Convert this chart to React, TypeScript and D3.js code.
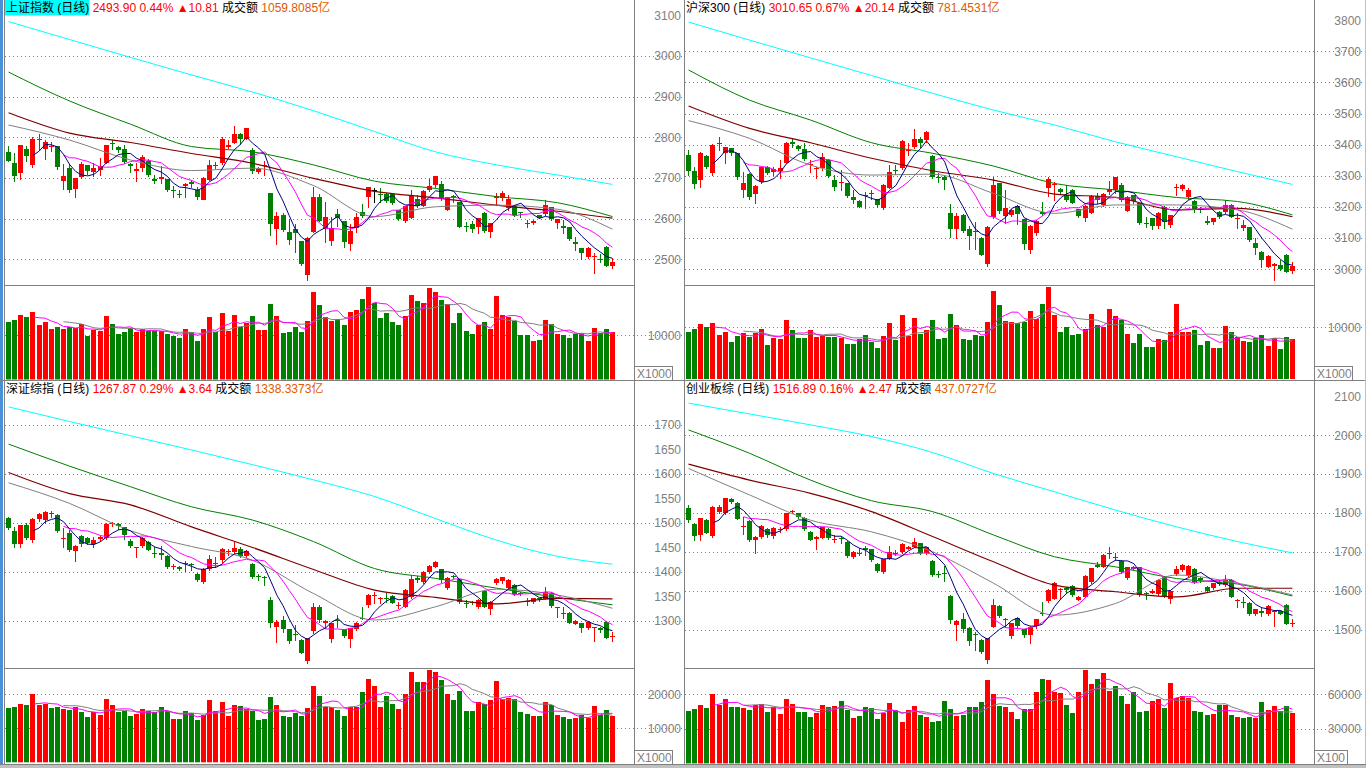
import React from 'react';
import * as d3 from 'd3';

// ---------- shared ----------
const IDX = d3.range(100);
const maSampleIdx = [0, 10, 20, 30, 40, 50, 60, 70, 80, 90, 99];

// ---------- 上证指数 ----------
const shOpen = [2764,2737,2713,2770,2730,2792,2770,2777,2778,2693,2724,2674,2701,2731,2715,2718,2737,2785,2777,2770,2734,2717,2723,2741,2698,2697,2698,2670,2660,2680,2690,2670,2647,2695,2731,2736,2777,2787,2807,2796,2769,2715,2728,2662,2575,2608,2567,2574,2544,2462,2568,2654,2574,2544,2611,2595,2539,2576,2617,2652,2670,2660,2660,2660,2621,2595,2603,2647,2633,2670,2682,2685,2621,2655,2642,2582,2587,2579,2613,2565,2651,2652,2628,2631,2615,2588,2587,2608,2610,2628,2587,2583,2580,2543,2528,2506,2506,2500,2529,2485];
const shClose = [2742,2705,2781,2752,2795,2795,2787,2778,2726,2705,2670,2700,2734,2716,2724,2729,2781,2782,2769,2739,2729,2722,2751,2706,2693,2701,2670,2667,2657,2686,2685,2654,2700,2731,2729,2796,2782,2808,2795,2823,2718,2723,2731,2585,2606,2570,2547,2564,2487,2552,2654,2595,2603,2576,2600,2543,2570,2603,2606,2677,2670,2658,2642,2638,2599,2631,2656,2631,2669,2680,2705,2647,2654,2649,2580,2579,2575,2601,2568,2588,2655,2664,2649,2608,2613,2587,2593,2601,2633,2598,2598,2579,2551,2539,2516,2528,2509,2498,2483.1,2493.9];
const shHigh = [2778,2760,2781,2778,2800,2808,2792,2787,2778,2734,2734,2700,2740,2731,2736,2748,2781,2793,2778,2781,2737,2736,2756,2746,2708,2729,2698,2680,2670,2688,2695,2677,2703,2744,2739,2800,2792,2828,2811,2823,2773,2728,2742,2662,2615,2613,2598,2587,2544,2556,2677,2660,2642,2605,2624,2595,2587,2613,2637,2677,2674,2674,2664,2662,2621,2631,2670,2657,2670,2698,2705,2692,2654,2658,2642,2592,2595,2601,2615,2590,2664,2669,2659,2634,2615,2597,2597,2610,2646,2629,2598,2597,2580,2556,2528,2531,2515,2513,2533,2502];
const shLow = [2742,2693,2698,2741,2728,2769,2746,2765,2722,2672,2665,2654,2699,2710,2705,2706,2736,2772,2763,2736,2714,2693,2718,2705,2687,2687,2669,2654,2652,2654,2677,2647,2647,2695,2724,2734,2773,2785,2783,2795,2711,2711,2706,2560,2538,2569,2538,2519,2487,2449,2568,2593,2543,2534,2583,2531,2523,2568,2605,2629,2642,2642,2641,2636,2597,2592,2601,2629,2632,2669,2677,2646,2620,2642,2579,2570,2568,2564,2568,2556,2633,2646,2621,2606,2603,2579,2587,2601,2609,2597,2576,2564,2547,2523,2500,2502,2466,2494,2483,2479];
const shVol = [12995,13370,14490,14120,15170,12250,12850,11350,11800,11350,11800,11500,12400,9780,11120,10970,14270,12470,10220,10600,11650,10600,11350,10820,10820,10820,10220,9780,9330,11350,10600,8650,11350,14040,10600,15020,10900,14490,11870,12620,14270,11120,11120,17040,14270,10520,10750,11800,10750,13150,19660,16820,14120,13150,13520,12250,15170,15620,18090,20780,17110,13820,15020,12920,12250,14270,19060,17640,17270,20560,19660,17860,16890,12770,15020,10900,10220,12170,12920,11420,18760,14570,14040,13070,9920,9920,8650,8880,13370,12550,10300,9920,9400,10300,10520,8650,11570,10450,11350,10670];
const shMA20 = [2830,2793,2744,2718,2724,2681,2605,2629,2633,2623,2574];
const shMA30 = [2860,2810,2787,2760,2736,2699,2667,2651,2633,2618,2601];
const shMA60 = [2960,2889,2832,2777,2764,2732,2692,2674,2654,2639,2605];
const shMA120 = [3084,3040,2996,2953,2911,2865,2814,2764,2732,2707,2684];
const shPriceTicks = [2500,2600,2700,2800,2900,3000,3100];
const shGridTicks = [2500,2600,2700,2800,2900,3000];
const shVolTicks = [10000];

// ---------- 沪深300 ----------
const hsOpen = [3366.6,3316,3286.2,3363.3,3307.6,3402,3371.9,3388,3371.9,3254,3305.5,3240.1,3277.6,3329,3309.7,3313,3341.9,3409.4,3396.6,3384.8,3334.4,3320.5,3326.9,3350.5,3286.2,3277.6,3275.5,3232.6,3219.7,3239,3243.3,3224,3195.1,3262.6,3318.3,3323.7,3380.5,3391.2,3418,3414.8,3363.3,3296.9,3296.9,3179,3127.5,3173.6,3127.5,3123.3,3100.8,3018.2,3166.1,3275.5,3168.3,3173.6,3202.6,3159.7,3061.1,3116.8,3184.4,3262.6,3269,3256.2,3238,3254,3191.9,3162.9,3181.1,3234.7,3205.8,3245.4,3251.9,3270.1,3187.6,3236.9,3211.1,3149,3162.9,3138.3,3198.3,3141.5,3260.4,3256.2,3230.4,3219.7,3194,3155.4,3149,3183.3,3184.4,3205.8,3160.8,3131.8,3134,3084.7,3055.7,3007.5,3009.6,3013.9,3044,2994.6];
const hsClose = [3316.2,3275.5,3371.9,3329,3398.7,3406.2,3391.2,3371.9,3293.7,3277.6,3230.4,3266.9,3326.9,3309.7,3320.5,3323.7,3406.2,3404.1,3388,3353.7,3336.5,3323.7,3361.2,3299,3264.7,3279.7,3232.6,3224,3200.4,3236.9,3241.2,3205.8,3270.1,3313,3314,3411.6,3382.6,3416.9,3406.2,3441.6,3294.7,3294.7,3286.2,3127.5,3170.4,3123.3,3104,3120,3047.2,3136.1,3270.1,3184.4,3195.1,3189.7,3175.8,3080.4,3138.3,3155.4,3179,3290.5,3273.3,3245.4,3221.9,3213.3,3168.3,3202.6,3234.7,3221.9,3241.2,3256.2,3294.7,3221.9,3232.6,3216.5,3146.8,3146.8,3136.1,3181.1,3149,3172.6,3262.6,3270.1,3254,3189.7,3189.7,3149,3162.9,3168.3,3205.8,3168.3,3162.9,3140.4,3093.2,3069.7,3029,3042.9,3016.1,3002.1,2990.51,3010.65];
const hsHigh = [3382.6,3329,3377.3,3366.6,3400.9,3423.4,3393.3,3390.1,3374,3313,3307.6,3270.1,3329,3331.2,3329,3350.5,3408.4,3416.9,3398.7,3404.1,3350.5,3329,3371.9,3352.6,3302.3,3318.3,3277.6,3254,3221.9,3248.7,3254,3226.1,3272.2,3334.4,3334.4,3413.7,3404.1,3450.2,3423.4,3444.8,3365.5,3309.7,3299,3208,3181.1,3175.8,3138.3,3152.2,3102.9,3138.3,3296.9,3277.6,3254,3191.9,3205.8,3161.8,3140.4,3157.6,3216.5,3294.7,3280.8,3259.4,3269,3256.2,3194,3204.7,3236.9,3243.3,3243.3,3281.9,3294.7,3275.5,3234.7,3239,3213.3,3166.1,3165,3183.3,3202.6,3174.7,3273.3,3272.2,3259.4,3221.9,3200.4,3170.4,3165,3185.4,3221.9,3208,3179,3157.6,3136.1,3098.6,3057.9,3045,3020.4,3029,3048.2,3023.6];
const hsLow = [3302.3,3259.4,3264.7,3323.7,3302.3,3382.6,3339.8,3366.6,3290.5,3232.6,3224,3211.1,3275.5,3305.5,3302.3,3291.5,3339.8,3393.3,3382.6,3350.5,3313,3293.7,3318.3,3296.9,3254,3254,3230.4,3211.1,3198.3,3195.1,3224,3198.3,3194,3260.4,3305.5,3320.5,3366.6,3388,3391.2,3409.4,3292.6,3280.8,3256.2,3101.8,3098.6,3120,3063.2,3063.2,3045,3010.7,3162.9,3181.1,3146.8,3170.4,3144.7,3064.3,3052.5,3109.3,3173.6,3234.7,3221.9,3241.2,3219.7,3211.1,3166.1,3155.4,3179,3211.1,3202.6,3241.2,3245.4,3219.7,3185.4,3213.3,3144.7,3136.1,3127.5,3130.8,3130.8,3134,3238,3254,3224,3184.4,3184.4,3144.7,3144.7,3162.9,3179,3166.1,3130.8,3125.4,3091.1,3048.2,3007.5,3005.4,2964.6,2996.8,2990.4,2986.1];
const hsVol = [9159,9740,10643,9998,10900,8514,9159,7224,8385,8966,8192,8837,9675,6579,7934,7740,11417,9482,7934,7934,9482,8192,8385,8063,8063,7998,6773,6773,7740,8514,7224,5999,8321,10772,7547,12384,8321,11804,8708,9482,11417,7805,7934,12578,10449,7740,7547,8514,8321,11030,17028,14384,11159,11094,10900,10965,13158,11546,14513,17738,12384,9095,9998,8579,8772,9611,12642,10449,10062,13545,12191,11417,8708,6966,8708,6192,6192,7740,7547,9095,14513,9095,9095,9482,6579,7418,5999,5999,10256,9095,8192,7418,7160,7934,8514,6386,7934,5805,8127,7740];
const hsMA20 = [3477,3420,3334,3302,3305,3243,3179,3206,3206,3190,3128];
const hsMA30 = [3524,3452,3406,3356,3316,3286,3241,3230,3190,3195,3168];
const hsMA60 = [3640,3543,3479,3406,3372,3331,3275,3254,3230,3217,3174];
const hsMA120 = [3794,3736,3679,3622,3565,3511,3463,3409,3361,3313,3272];
const hsPriceTicks = [3000,3100,3200,3300,3400,3500,3600,3700,3800];
const hsGridTicks = [3000,3100,3200,3300,3400,3500,3600,3700];
const hsVolTicks = [10000];

// ---------- 深证综指 ----------
const szOpen = [1508.5,1483.3,1456.1,1494.8,1462.9,1506.4,1506.4,1520,1515.3,1465.6,1477.8,1442.5,1472.4,1468.3,1456.1,1467.6,1467.6,1496.9,1496.9,1490.1,1462.9,1447.9,1450.6,1460.8,1438.4,1437,1431.6,1408.5,1409.8,1418,1415.3,1394.8,1377.2,1404.4,1415.3,1422.1,1439.7,1439.7,1446.5,1431.6,1415.3,1390.8,1389.4,1341.8,1287.4,1301,1281.9,1272.4,1260.1,1215.9,1277.2,1328.2,1295.5,1261.5,1301,1281.9,1261.5,1284,1305.7,1331.6,1349.9,1345.2,1346.5,1349.9,1329.5,1328.2,1347.2,1386,1379.2,1399.6,1409.8,1404.4,1365.6,1390.8,1384,1336.3,1338.4,1326.8,1360.8,1324.8,1375.8,1379.2,1365.6,1372.4,1356.8,1340.4,1337.7,1345.2,1345.2,1356.8,1325.5,1315.9,1315.9,1294.2,1294.2,1286,1284,1284,1297.6,1265];
const szClose = [1488,1457.4,1494.8,1467.6,1506.4,1517.3,1522.1,1517.3,1483.3,1468.3,1443.8,1452,1456.1,1458.8,1464.2,1471,1496.9,1499.6,1492.8,1473.8,1452,1449.3,1467.6,1445.2,1435.7,1433.6,1408.5,1411.2,1405.7,1415.3,1412.5,1382.6,1404.4,1424.8,1418,1445.2,1442.5,1447.9,1431.6,1441.1,1388,1389.4,1386.7,1295.5,1297.6,1281.9,1256.8,1270.3,1234.3,1263.5,1326.8,1301,1299.6,1294.2,1298.2,1266.9,1284,1295.5,1304.4,1352,1352,1346.5,1344.5,1336.3,1331.6,1362.2,1384,1382.6,1399.6,1411.2,1419.3,1381.2,1386,1388,1336.3,1333.6,1336.3,1341.8,1328.2,1338.4,1384,1388,1382.6,1354,1354,1337.7,1345.2,1343.1,1358.8,1329.5,1326.8,1313.2,1295.5,1299.6,1284,1297.6,1286,1280.6,1264.23,1267.87];
const szHigh = [1511.9,1491.4,1494.8,1498.3,1508.5,1518.7,1524.1,1524.1,1516.6,1488,1484.6,1454,1473.8,1471,1471,1472.4,1498.3,1501.6,1498.3,1491.4,1465.6,1450.6,1471,1462.9,1450.6,1452,1433.6,1415.3,1411.2,1422.1,1418,1396.2,1406.4,1433.6,1428.9,1447.2,1445.2,1460.8,1449.3,1443.8,1416.6,1394.8,1390.8,1347.2,1301,1309.1,1283.3,1290.8,1261.5,1264.9,1336.3,1331.6,1301,1295.5,1311.2,1283.3,1285.3,1297.6,1328.2,1353.4,1358.8,1348.6,1356.8,1351.3,1338.4,1363.6,1392.8,1390.8,1401,1413.2,1420.7,1405.7,1388,1392.1,1385.3,1341.8,1339.8,1343.1,1362.2,1339.8,1386,1389.4,1384,1373.8,1358.1,1345.2,1346.5,1346.5,1367.6,1358.1,1328.2,1326.8,1317.3,1301,1295.5,1298.9,1287.4,1287.4,1299.6,1277.2];
const szLow = [1486,1449.3,1449.3,1465.6,1460.8,1503.7,1498.3,1511.9,1481.2,1450.6,1442.5,1422.1,1452,1456.1,1450.6,1464.2,1465.6,1492.8,1486,1467,1449.3,1428.9,1449.3,1443.8,1428.9,1424.8,1406.4,1404.4,1403,1401.6,1403,1381.2,1375.8,1403,1408.5,1420,1433.6,1438.4,1428.9,1428.9,1386,1382.6,1372.4,1287.4,1256.8,1277.2,1254.7,1260.1,1232.9,1213.9,1275.1,1297.6,1284,1256.8,1287.4,1265.6,1246.5,1280.6,1302.3,1328.2,1335,1335,1338.4,1335,1324.8,1326.8,1345.2,1379.2,1377.2,1397.6,1408.5,1379.2,1363.6,1386,1335,1328.2,1333.6,1324.8,1326.8,1313.2,1374.4,1377.2,1364.2,1352,1351.3,1331.6,1336.3,1340.4,1343.1,1328.2,1307.8,1304.4,1294.2,1292.8,1277.2,1281.9,1258.8,1277.2,1263.5,1258.8];
const szVol = [15780,16070,16940,16650,19860,16650,16940,15780,16070,15490,15200,16070,14610,13160,14610,13740,18400,16650,14610,14900,13450,14030,15490,14900,14610,16070,14900,12570,12570,14900,14320,12280,13740,18110,14900,17530,13450,16650,16360,15490,14900,12280,12570,18980,16650,13450,13160,14320,13450,15780,22480,19270,16070,16070,15200,13450,16070,16070,20440,24520,22480,16070,19270,16940,15490,19860,26560,23450,23450,27140,26560,24230,19860,18110,21020,14900,14900,17530,16940,18110,23930,18400,18690,18400,14610,14030,13450,13450,17530,16650,13740,13160,12570,12870,13740,12870,16360,13740,15200,13450];
const szMA20 = [1581,1539,1483,1451,1423,1355,1301,1328,1364,1352,1325];
const szMA30 = [1602,1559,1536,1491,1449,1404,1362,1347,1334,1345,1344];
const szMA60 = [1660,1615,1573,1532,1505,1461,1406,1386,1366,1347,1332];
const szMA120 = [1736,1706,1677,1648,1618,1587,1553,1508,1464,1431,1415];
const szPriceTicks = [1300,1350,1400,1450,1500,1550,1600,1650,1700];
const szGridTicks = [1300,1400,1500,1600,1700];
const szVolTicks = [10000, 20000];

// ---------- 创业板综 ----------
const cyOpen = [1811.4,1771.2,1742.9,1781.4,1740.3,1802.9,1798.6,1834.6,1826,1762.6,1779.7,1730,1738.6,1757.4,1738.6,1754,1757.4,1802,1798.6,1785.7,1751.5,1733.4,1734.9,1757.4,1730,1734.3,1725.7,1687.2,1697.5,1708.6,1706,1668.3,1646,1682.9,1697.5,1700,1708.6,1712.9,1721.5,1695.7,1676.9,1642.6,1644.3,1586.1,1511.5,1526.1,1503,1487.5,1473,1419.8,1507.2,1560.4,1524.4,1483.2,1528.7,1500.4,1487.5,1507.2,1543.2,1574.1,1580.1,1599.8,1605.8,1611.8,1577.5,1584.4,1620.3,1665.7,1661.5,1694,1687.2,1676.9,1631.5,1661.5,1659.8,1594.6,1594.6,1591.2,1634.1,1580.1,1642.6,1652.9,1640.1,1656.3,1631.5,1610.1,1605.8,1622.9,1614.4,1627.2,1574.1,1571.5,1568.9,1539.8,1548.4,1539.8,1545.8,1548.4,1562.9,1513.5];
const cyClose = [1779.7,1740.3,1785.7,1748.9,1815.7,1815.7,1837.1,1826,1785.7,1766,1730,1738.6,1766,1742.9,1760,1757.4,1798.6,1804.6,1788.3,1757.4,1731.7,1738.6,1762.6,1734.3,1731.7,1731.7,1688.9,1700,1694,1704.3,1676.9,1651.2,1680.3,1700,1694,1719.8,1712.9,1725.7,1695.7,1711.2,1640.1,1640.1,1642.6,1524.4,1522.7,1500.4,1468.7,1485.8,1443,1477.2,1562.9,1534.7,1526.1,1515.8,1508.9,1485.8,1507.2,1526.1,1539.8,1601.5,1620.3,1603.2,1601.5,1588.7,1584.4,1637.5,1657.2,1661.5,1691.5,1695.7,1685.5,1648.6,1659.8,1657.2,1588.7,1591.2,1599.8,1627.2,1584.4,1599.8,1654.6,1665.7,1663.2,1622.9,1627.2,1599.8,1618.6,1616.9,1627.2,1584.4,1575.8,1568.9,1539.8,1551.8,1543.2,1560.4,1548.4,1541.5,1514.42,1516.89];
const cyHigh = [1820,1772.9,1787.4,1783.2,1817.4,1820,1838.9,1837.1,1827.7,1790,1781.4,1740.3,1767.7,1760,1762.6,1764.3,1800.3,1807.2,1800.3,1788.3,1754,1740.3,1764.3,1760,1742.9,1738.6,1728.3,1702.6,1708.6,1714.6,1707.8,1670,1682,1714.6,1704.3,1721.5,1714.6,1734.3,1723.2,1712.9,1678.6,1651.2,1663.2,1587.8,1524.4,1541.5,1505.5,1494.4,1474.7,1479,1577.5,1562.1,1528.7,1517.5,1533,1502.1,1508.9,1527.8,1571.5,1603.2,1622.9,1605.8,1610.1,1613.5,1586.1,1639.2,1658.9,1674.3,1693.2,1711.2,1695.7,1678.6,1661.5,1663.2,1661.5,1597.2,1603.2,1628.9,1635.8,1601.5,1663.2,1667.5,1664.9,1658,1634.1,1611.8,1620.3,1627.2,1640.1,1628.9,1577.5,1584.4,1570.6,1553.5,1554.4,1562.1,1550.1,1550.1,1564.7,1526.1];
const cyLow = [1777.2,1730,1730,1747.2,1738.6,1798.6,1796.9,1824.3,1783.2,1745.5,1728.3,1697.5,1734.9,1738.6,1734.9,1751.5,1755.7,1798.6,1785.7,1755.7,1730,1707.8,1734.3,1731.7,1725.7,1721.5,1687.2,1682.9,1691.5,1691.5,1675.2,1648.6,1644.3,1680.3,1691.5,1697.5,1706,1711.2,1694,1694,1637.5,1635.8,1625.5,1517.5,1473,1494.4,1460.1,1447.3,1440.4,1414.7,1505.5,1532.9,1507.2,1477.2,1507.2,1481.5,1464.4,1503,1537.2,1571.5,1577.5,1577.5,1594.6,1586.1,1575.8,1582.6,1618.6,1659.8,1659.8,1682.9,1678.6,1646,1628.9,1654.6,1586.9,1577.5,1592.9,1588.7,1582.6,1567.2,1640.1,1651.2,1637.5,1620.3,1622.9,1597.2,1603.2,1614.4,1611.8,1582.6,1558.7,1556.9,1537.2,1537.2,1534.7,1537.2,1508.9,1539.8,1513,1508.9];
const cyVol = [45290,47030,50490,47890,60010,50490,55680,48760,48760,47890,46160,50490,51350,44430,48760,42700,55680,51350,44430,44430,40100,43560,50490,48760,49620,53950,46160,39240,40970,48760,47890,38370,43560,52220,46160,35770,46160,49620,41830,40100,35770,36640,53950,47030,40970,41830,48760,48760,53080,72130,60010,49620,48760,44430,38370,47030,47030,61740,72990,72130,61740,60870,50490,43560,61740,80780,68660,72990,78180,62600,66930,58280,51350,61740,44430,45290,53950,55680,47890,69530,56550,58280,56550,45290,44430,41830,42700,50490,50490,41830,40100,39240,40100,39240,53080,46160,49620,45290,49620,43560];
const cyMA20 = [1914,1846,1781,1751,1700,1619,1537,1567,1640,1619,1589];
const cyMA30 = [1925,1884,1850,1803,1739,1674,1614,1597,1584,1606,1606];
const cyMA60 = [2013,1953,1884,1831,1803,1743,1687,1661,1631,1617,1586];
const cyMA120 = [2082,2054,2026,1996,1955,1901,1854,1807,1764,1726,1697];
const cyPriceTicks = [1500,1600,1700,1800,1900,2000,2100];
const cyGridTicks = [1500,1600,1700,1800,1900,2000];
const cyVolTicks = [30000, 60000];

// ---------- styles ----------
const RED = '#ff0000';
const GREEN = '#008000';
const GRAYLINE = '#808080';
const AXISTXT = '#808080';
const FONT = "'Liberation Sans', Arial, 'Noto Sans CJK SC', sans-serif";

function movingAvg(arr: number[], n: number): (number | null)[] {
  return arr.map((_, i) => (i < n - 1 ? null : (d3.mean(arr.slice(i - n + 1, i + 1)) as number)));
}

type Cfg = {
  x0: number; x1: number; top: number; priceBottom: number; volBottom: number;
  priceDomain: [number, number]; priceRange: [number, number];
  priceTicks: number[]; gridTicks: number[];
  volDomain: [number, number]; volRange: [number, number]; volTicks: number[]; volUnit: string;
  open: number[]; high: number[]; low: number[]; close: number[]; vol: number[];
  ma20: number[]; ma30: number[]; ma60: number[]; ma120: number[];
  name: string; price: string; pct: string; chg: string; amount: string; highlight: boolean;
};

function Panel({ c }: { c: Cfg }) {
  const x = d3.scaleBand<number>().domain(IDX).range([c.x0 + 0.5, c.x0 + 610.5]);
  const cx = (i: number) => (x(i) as number) + x.bandwidth() / 2;
  const yP = d3.scaleLinear().domain(c.priceDomain).range(c.priceRange);
  const yV = d3.scaleLinear().domain(c.volDomain).range(c.volRange);

  const ma5 = movingAvg(c.close, 5);
  const ma10 = movingAvg(c.close, 10);
  const vma5 = movingAvg(c.vol, 5);
  const vma10 = movingAvg(c.vol, 10);

  const lineP = d3.line<number | null>().defined((d) => d != null).x((_, i) => cx(i)).y((d) => yP(d as number));
  const lineV = d3.line<number | null>().defined((d) => d != null).x((_, i) => cx(i)).y((d) => yV(d as number));
  const lineS = d3.line<number>().x((_, k) => cx(maSampleIdx[k])).y((d) => yP(d)).curve(d3.curveMonotoneX);

  const colorOf = (i: number) => {
    if (c.close[i] > c.open[i]) return RED;
    if (c.close[i] < c.open[i]) return GREEN;
    return i > 0 && c.close[i] >= c.close[i - 1] ? RED : GREEN;
  };

  const labelX = c.x1 + 47;
  const volBase = yV(0);

  return (
    <g>
      {c.gridTicks.map((t) => (
        <line key={'g' + t} x1={c.x0} x2={c.x1 + 48} y1={Math.round(yP(t)) + 0.5} y2={Math.round(yP(t)) + 0.5}
          stroke={GRAYLINE} strokeDasharray="1 3" />
      ))}
      {c.volTicks.map((t) => (
        <line key={'vg' + t} x1={c.x0} x2={c.x1 + 48} y1={Math.round(yV(t)) + 0.5} y2={Math.round(yV(t)) + 0.5}
          stroke={GRAYLINE} strokeDasharray="1 3" />
      ))}
      {c.highlight && <rect x={c.x0} y={c.top} width={84.5} height={15.5} fill="#00ffff" />}
      <text x={c.x0 + 1} y={c.top + 12} fontSize={12} fontFamily={FONT} xmlSpace="preserve">
        <tspan fill="#000">{c.name + ' '}</tspan>
        <tspan fill={RED}>{c.price + ' ' + c.pct + ' ▲' + c.chg + ' '}</tspan>
        <tspan fill="#000">{'成交额 '}</tspan>
        <tspan fill="#e05a00">{c.amount}</tspan>
      </text>
      {c.priceTicks.map((t) => (
        <text key={'t' + t} x={labelX} y={yP(t) + 4.5} textAnchor="end" fontSize={12} fontFamily={FONT} fill={AXISTXT}>
          {t}
        </text>
      ))}
      {c.volTicks.map((t) => (
        <text key={'vt' + t} x={labelX} y={yV(t) + 4.5} textAnchor="end" fontSize={12} fontFamily={FONT} fill={AXISTXT}>
          {t}
        </text>
      ))}
      <rect x={c.x1 + 0.5} y={c.volBottom - 14} width={c.volUnit === 'X100' ? 33 : 38} height={14} fill="#fff" stroke={GRAYLINE} />
      <text x={c.x1 + 3} y={c.volBottom - 2.5} fontSize={12} fontFamily={FONT} fill={AXISTXT}>{c.volUnit}</text>
      {IDX.map((i) => {
        const col = c.close[i] === c.open[i] ? '#000' : colorOf(i);
        const xc = Math.floor(cx(i));
        const yo = yP(c.open[i]);
        const yc = yP(c.close[i]);
        const top = Math.round(Math.min(yo, yc));
        const h = Math.max(1, Math.round(Math.abs(yo - yc)));
        return (
          <g key={'c' + i}>
            <line x1={xc + 0.5} x2={xc + 0.5} y1={Math.round(yP(c.high[i]))} y2={Math.round(yP(c.low[i])) + 1} stroke={col} />
            <rect x={xc - 2} y={top} width={5} height={h} fill={col} />
          </g>
        );
      })}
      <path d={lineS(c.ma120) || ''} fill="none" stroke="#00ffff" strokeWidth={1} />
      <path d={lineS(c.ma60) || ''} fill="none" stroke="#008000" strokeWidth={1} />
      <path d={lineS(c.ma30) || ''} fill="none" stroke="#800000" strokeWidth={1.2} />
      <path d={lineS(c.ma20) || ''} fill="none" stroke="#808080" strokeWidth={1} />
      <path d={lineP(ma10) || ''} fill="none" stroke="#ff00ff" strokeWidth={1} />
      <path d={lineP(ma5) || ''} fill="none" stroke="#000080" strokeWidth={1} />
      {IDX.map((i) => {
        const xc = Math.floor(cx(i));
        const yt = Math.round(yV(c.vol[i]));
        return <rect key={'v' + i} x={xc - 2} y={yt} width={5} height={Math.max(0, volBase - yt)} fill={colorOf(i)} />;
      })}
      <path d={lineV(vma10) || ''} fill="none" stroke="#808080" strokeWidth={1} />
      <path d={lineV(vma5) || ''} fill="none" stroke="#ff00ff" strokeWidth={1} />
      <line x1={c.x0 - 0.5} x2={c.x1} y1={c.priceBottom + 0.5} y2={c.priceBottom + 0.5} stroke={GRAYLINE} />
      <line x1={c.x1 + 0.5} x2={c.x1 + 0.5} y1={c.top} y2={c.volBottom} stroke={GRAYLINE} />
    </g>
  );
}

const panels: Cfg[] = [
  {
    x0: 5, x1: 634, top: 0, priceBottom: 285, volBottom: 380.5,
    priceDomain: [2500, 3100], priceRange: [259.3, 15.1], priceTicks: shPriceTicks, gridTicks: shGridTicks,
    volDomain: [0, 10000], volRange: [379.5, 335], volTicks: shVolTicks, volUnit: 'X1000',
    open: shOpen, high: shHigh, low: shLow, close: shClose, vol: shVol,
    ma20: shMA20, ma30: shMA30, ma60: shMA60, ma120: shMA120,
    name: '上证指数 (日线)', price: '2493.90', pct: '0.44%', chg: '10.81', amount: '1059.8085亿', highlight: true,
  },
  {
    x0: 685, x1: 1314, top: 0, priceBottom: 285, volBottom: 380.5,
    priceDomain: [3000, 3800], priceRange: [269, 20.2], priceTicks: hsPriceTicks, gridTicks: hsGridTicks,
    volDomain: [0, 10000], volRange: [379, 327.3], volTicks: hsVolTicks, volUnit: 'X1000',
    open: hsOpen, high: hsHigh, low: hsLow, close: hsClose, vol: hsVol,
    ma20: hsMA20, ma30: hsMA30, ma60: hsMA60, ma120: hsMA120,
    name: '沪深300 (日线)', price: '3010.65', pct: '0.67%', chg: '20.14', amount: '781.4531亿', highlight: false,
  },
  {
    x0: 5, x1: 634, top: 381, priceBottom: 668, volBottom: 764.5,
    priceDomain: [1300, 1700], priceRange: [620.5, 424.5], priceTicks: szPriceTicks, gridTicks: szGridTicks,
    volDomain: [0, 20000], volRange: [762.3, 694], volTicks: szVolTicks, volUnit: 'X1000',
    open: szOpen, high: szHigh, low: szLow, close: szClose, vol: szVol,
    ma20: szMA20, ma30: szMA30, ma60: szMA60, ma120: szMA120,
    name: '深证综指 (日线)', price: '1267.87', pct: '0.29%', chg: '3.64', amount: '1338.3373亿', highlight: false,
  },
  {
    x0: 685, x1: 1314, top: 381, priceBottom: 668, volBottom: 764.5,
    priceDomain: [1500, 2100], priceRange: [629.5, 396.1], priceTicks: cyPriceTicks, gridTicks: cyGridTicks,
    volDomain: [0, 60000], volRange: [763.4, 694], volTicks: cyVolTicks, volUnit: 'X100',
    open: cyOpen, high: cyHigh, low: cyLow, close: cyClose, vol: cyVol,
    ma20: cyMA20, ma30: cyMA30, ma60: cyMA60, ma120: cyMA120,
    name: '创业板综 (日线)', price: '1516.89', pct: '0.16%', chg: '2.47', amount: '437.0727亿', highlight: false,
  },
];

export default function App() {
  return (
    <div>
      <style>{`html,body{margin:0;padding:0;background:#fff;overflow:hidden}`}</style>
      <svg width={1366} height={768} style={{ display: 'block' }}>
        <rect x={0} y={0} width={1366} height={768} fill="#fff" />
        {panels.map((p, k) => <Panel key={k} c={p} />)}
        <rect x={0} y={0} width={3} height={768} fill="#4a90d9" />
        <line x1={4.5} x2={4.5} y1={0} y2={768} stroke={GRAYLINE} />
        <line x1={684.5} x2={684.5} y1={0} y2={768} stroke={GRAYLINE} />
        <line x1={0} x2={1366} y1={380.5} y2={380.5} stroke={GRAYLINE} />
        <line x1={1365.5} x2={1365.5} y1={0} y2={768} stroke="#c0c0c0" />
        <rect x={0} y={765} width={1366} height={3} fill="#c0c0c0" />
        <line x1={0} x2={1366} y1={764.5} y2={764.5} stroke={GRAYLINE} />
      </svg>
    </div>
  );
}
